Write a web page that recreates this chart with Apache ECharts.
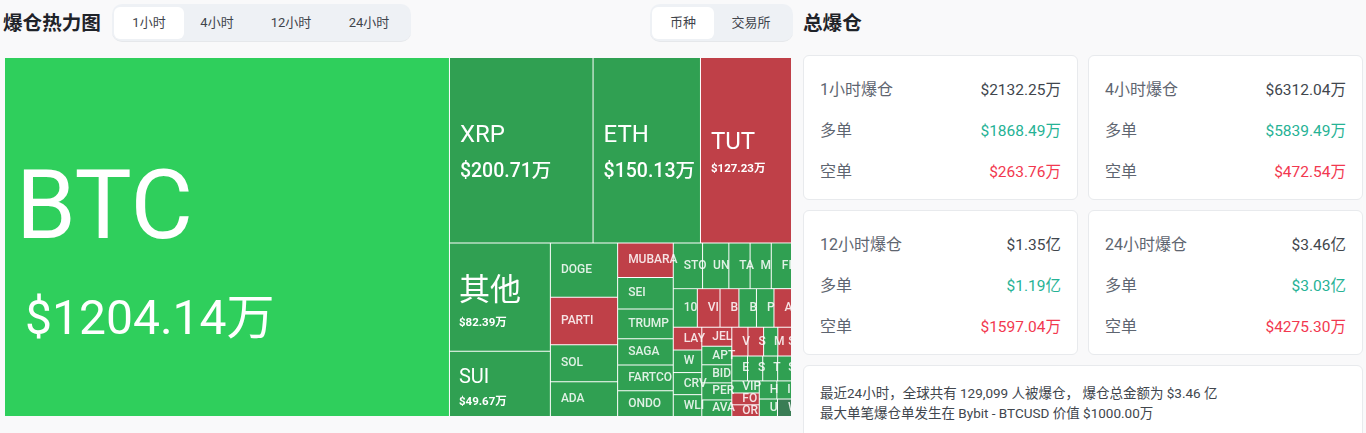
<!DOCTYPE html>
<html>
<head>
<meta charset="utf-8">
<script src="https://cdn.jsdelivr.net/npm/echarts@6/dist/echarts.min.js"></script>
<style>
  * { box-sizing: border-box; }
  html, body { margin: 0; width: 1366px; height: 433px; overflow: hidden; background: #f9f9fa;
    font-family: Roboto, "Noto Sans CJK SC", sans-serif; color: #1f2329; }
  .title { position: absolute; top: 11px; font-size: 19.6px; font-weight: 700; line-height: 26px; white-space: nowrap; }
  .seg { position: absolute; top: 4px; height: 38px; background: #eef1f5; border-radius: 10px; border-bottom: 1px solid #e6e8eb; }
  .seg span { position: absolute; top: 3px; height: 32px; line-height: 32px; text-align: center; font-size: 13px; color: #3f444b; border-radius: 6px; }
  .seg span.on { background: #fff; }
  #treemap { position: absolute; left: 5px; top: 58px; width: 786px; height: 358px; }
  .card { position: absolute; width: 275px; height: 145px; background: #fff; border: 1px solid #e8eaed; border-radius: 6px; }
  .row { position: absolute; left: 16px; right: 16px; display: flex; justify-content: space-between; font-size: 16px; line-height: 22px; color: #5e6570; }
  .row b { font-weight: 400; font-size: 15.5px; }
  .note { position: absolute; left: 803px; top: 365px; width: 560px; height: 90px; background: #fff; border: 1px solid #e8eaed; border-radius: 6px;
    padding: 17px 16px; font-size: 13.5px; line-height: 20px; color: #41464d; }
</style>
</head>
<body>
<div class="title" style="left:3px">爆仓热力图</div>
<div class="seg" style="left:112px;width:299px" id="segTime"></div>
<div class="seg" style="left:650px;width:143px" id="segKind"></div>
<div class="title" style="left:803px">总爆仓</div>
<div id="treemap"></div>
<div id="cards"></div>
<div class="note">最近24小时，全球共有 129,099 人被爆仓， 爆仓总金额为 $3.46 亿<br>最大单笔爆仓单发生在 Bybit - BTCUSD 价值 $1000.00万</div>
<script>
// 币种 / 爆仓金额(万) / 方向
const coins = ['BTC','XRP','ETH','TUT','其他','SUI','DOGE','PARTI','SOL','ADA','MUBARA','SEI','TRUMP','SAGA','FARTCO','ONDO',
  'STO','UN','TA','M','FI','10','VI','B','B','P','A','LAY','W','CRV','WLI','JEL','APT','BID','PER','AVA',
  'V','S','M','S','E','S','T','S','VIP','FO','OR','H','I','U','W'];
const amounts = [1204.14,200.71,150.13,127.23,82.39,49.67,27.6,24.0,18.8,17.6,14.5,13.2,12.5,11.0,10.8,10.8,
  10.1,9.06,7.32,7.3,6.97,7.0,6.6,5.5,5.1,5.1,5.1,4.9,4.85,4.75,4.7,4.3,4.2,4.09,3.86,3.75,
  3.5,3.4,3.08,2.97,2.95,2.85,2.8,2.6,2.5,2.45,2.42,2.4,2.0,2.4,1.85];
const sides = ['top','long','long','short','long','long','long','short','long','long','short','long','long','long','long','long',
  'long','long','long','long','long','long','short','short','long','long','short','short','long','long','long','short','long','long','long','long',
  'short','short','long','short','long','long','long','long','long','short','short','long','long','long','dim'];

const timeTabs = ['1小时','4小时','12小时','24小时'];
const kindTabs = ['币种','交易所'];

const cardTitles = ['1小时爆仓','4小时爆仓','12小时爆仓','24小时爆仓'];
const cardTotals = ['$2132.25万','$6312.04万','$1.35亿','$3.46亿'];
const cardLongs = ['$1868.49万','$5839.49万','$1.19亿','$3.03亿'];
const cardShorts = ['$263.76万','$472.54万','$1597.04万','$4275.30万'];

const sideColors = { top: '#2fcf5c', long: '#30a052', short: '#bf4048', dim: '#3a7d55' };

function fillSeg (id, tabs, lefts, widths) {
  const box = document.getElementById(id);
  tabs.forEach(function (t, i) {
    const s = document.createElement('span');
    s.textContent = t;
    s.style.left = lefts[i] + 'px';
    s.style.width = widths[i] + 'px';
    if (i === 0) s.className = 'on';
    box.appendChild(s);
  });
}
fillSeg('segTime', timeTabs, [2, 70, 141, 222], [70, 70, 76, 70]);
fillSeg('segKind', kindTabs, [2, 63], [62, 76]);

const cardsEl = document.getElementById('cards');
cardTitles.forEach(function (t, i) {
  const x = i % 2 ? 1088 : 803;
  const y = i < 2 ? 55 : 210;
  cardsEl.insertAdjacentHTML('beforeend',
    '<div class="card" style="left:' + x + 'px;top:' + y + 'px">' +
    '<div class="row" style="top:23px"><span>' + t + '</span><b style="color:#41464d">' + cardTotals[i] + '</b></div>' +
    '<div class="row" style="top:64px"><span>多单</span><b style="color:#26b295">' + cardLongs[i] + '</b></div>' +
    '<div class="row" style="top:105px"><span>空单</span><b style="color:#f2384f">' + cardShorts[i] + '</b></div>' +
    '</div>');
});

function money (v) {
  return '$' + v.toFixed(2) + '万';
}

// 大方块单独设字号，其余统一
function labelFor (i) {
  const text = '{n|' + coins[i] + '}\n{v|' + money(amounts[i]) + '}';
  if (i === 0) {
    return { formatter: text, padding: [78, 0, 0, 11], rich: {
      n: { fontSize: 96, lineHeight: 156, color: '#fff' },
      v: { fontSize: 48, lineHeight: 60, color: '#fff', padding: [0, 0, 0, 9] } } };
  }
  if (i === 1 || i === 2) {
    return { formatter: text, padding: [59, 0, 0, 10], rich: {
      n: { fontSize: 24, lineHeight: 38, color: '#fff' },
      v: { fontSize: 19.5, lineHeight: 34, color: '#fff', fontWeight: 500 } } };
  }
  if (i === 3) {
    return { formatter: text, padding: [71, 0, 0, 10], rich: {
      n: { fontSize: 24, lineHeight: 28, color: '#fff' },
      v: { fontSize: 11.5, lineHeight: 24, color: '#fff', fontWeight: 700 } } };
  }
  if (i === 4) {
    return { formatter: text, padding: [30, 0, 0, 9], rich: {
      n: { fontSize: 31, lineHeight: 38, color: '#fff' },
      v: { fontSize: 11.5, lineHeight: 24, color: '#fff', fontWeight: 700 } } };
  }
  if (i === 5) {
    return { formatter: text, padding: [14, 0, 0, 9], rich: {
      n: { fontSize: 20, lineHeight: 24, color: '#fff' },
      v: { fontSize: 11.5, lineHeight: 24, color: '#fff', fontWeight: 700 } } };
  }
  return { formatter: coins[i], padding: [0, 0, 0, 10], fontSize: 12, lineHeight: 9, fontWeight: 500, color: 'rgba(255,255,255,.85)' };
}

const treeData = coins.map(function (name, i) {
  return {
    name: name,
    value: amounts[i],
    itemStyle: { color: sideColors[sides[i]] },
    label: labelFor(i)
  };
});

const myChart = echarts.init(document.getElementById('treemap'));
myChart.setOption({
  animation: false,
  series: [
    {
      type: 'treemap',
      left: 0,
      top: 0,
      right: 0,
      bottom: 0,
      roam: false,
      nodeClick: false,
      breadcrumb: { show: false },
      sort: false,
      label: {
        show: true,
        position: 'insideLeft',
        distance: 0,
        overflow: 'none',
        fontFamily: 'Roboto, "Noto Sans CJK SC"'
      },
      itemStyle: { borderWidth: 0, gapWidth: 1, borderColor: '#fff' },
      levels: [{ itemStyle: { borderWidth: 0, gapWidth: 1, borderColor: '#fff' } }],
      data: treeData
    }
  ]
});
</script>
</body>
</html>
